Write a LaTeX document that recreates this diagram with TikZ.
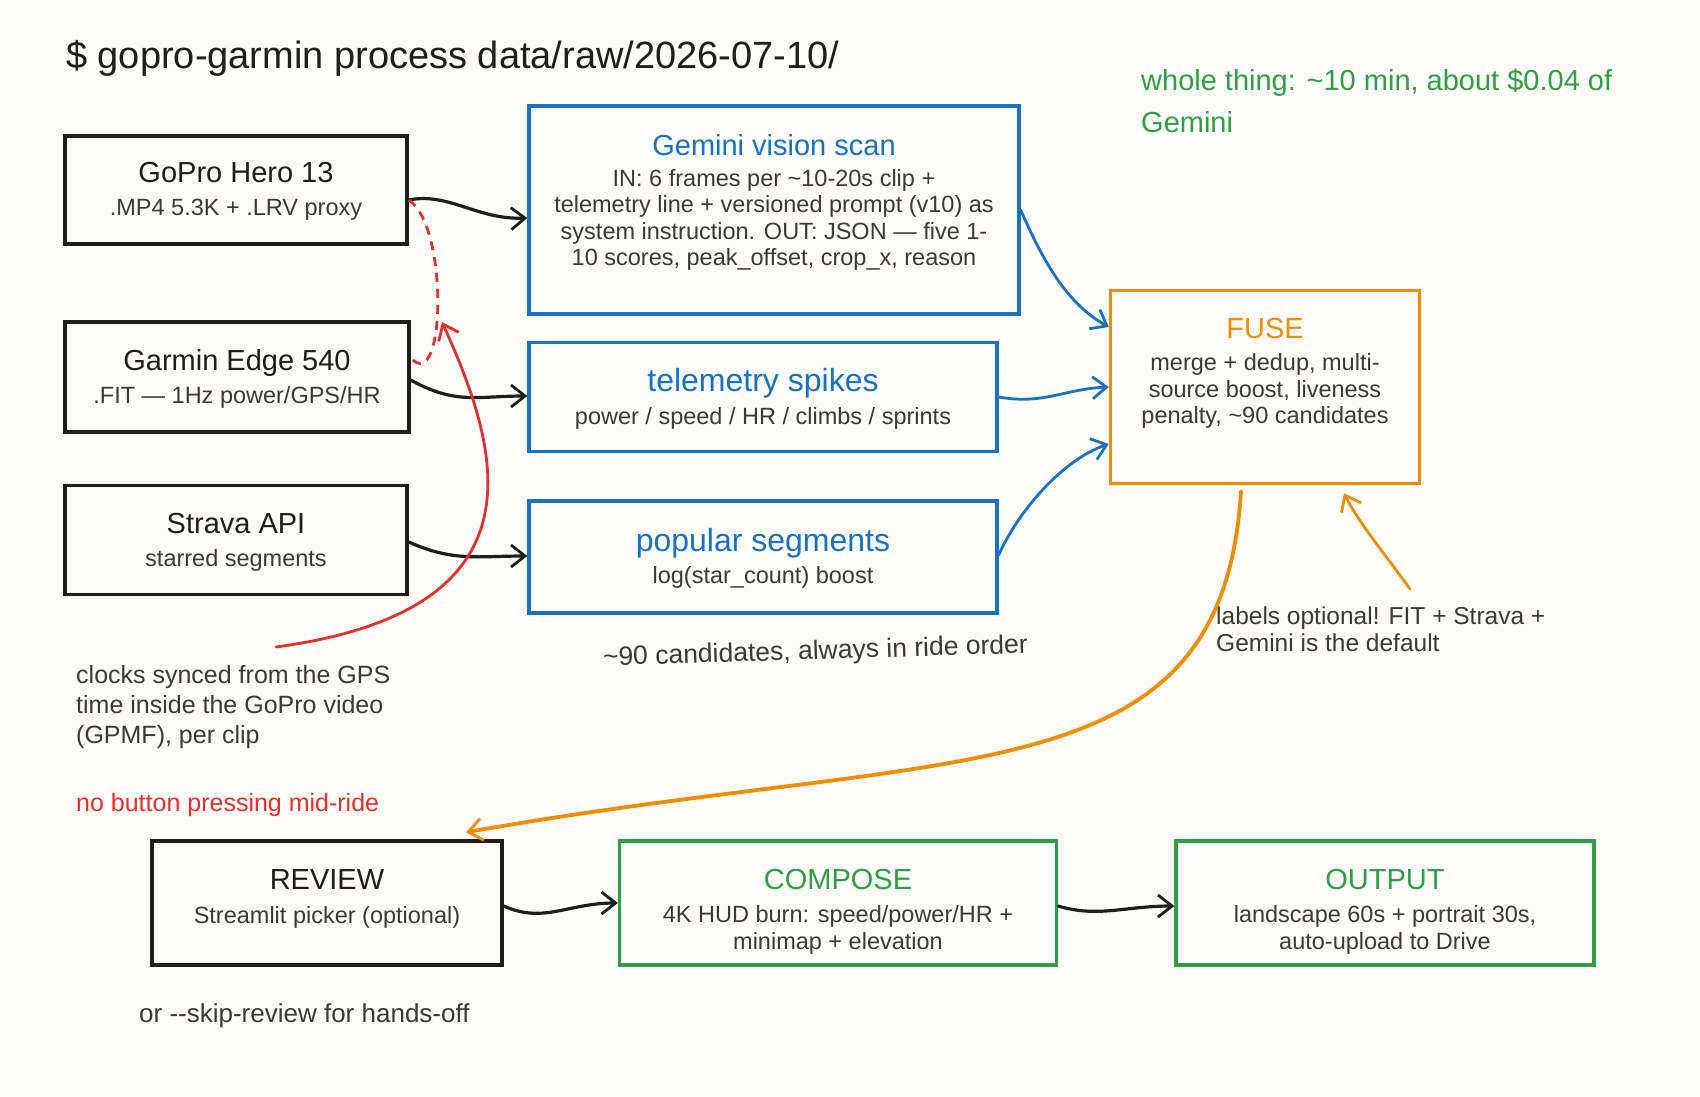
\documentclass[tikz,border=0pt]{standalone}
\usepackage{fontspec}
\setmainfont{Liberation Sans}
\usetikzlibrary{arrows.meta}
\definecolor{bg}{HTML}{FDFCF8}
\definecolor{ink}{HTML}{1E1E1E}
\definecolor{subink}{HTML}{3A3A3A}
\definecolor{xblue}{HTML}{1971C2}
\definecolor{xorange}{HTML}{F08C00}
\definecolor{xgreen}{HTML}{2F9E44}
\definecolor{xred}{HTML}{E03131}
\begin{document}
\begin{tikzpicture}[x=1pt,y=-1pt,
  box/.style={draw=#1, line width=3.4pt, rectangle, inner sep=0pt},
  ttl/.style={text=#1, font=\fontsize{29}{34}\selectfont, anchor=mid, inner sep=0pt},
  bigttl/.style={text=#1, font=\fontsize{32}{36}\selectfont, anchor=mid, inner sep=0pt},
  sub/.style={text=subink, font=\fontsize{23.5}{26.5}\selectfont, align=center, inner sep=0pt},
  note/.style={text=#1, font=\fontsize{24.5}{30}\selectfont, align=left, inner sep=0pt},
  tip/.style={-{Straight Barb[length=14pt,width=22pt,line width=2.8pt]}},
  arr/.style={draw=#1, line width=2.8pt, tip, line cap=round},
]
\fill[bg] (0,0) rectangle (1700,1096);
\useasboundingbox (0,0) rectangle (1700,1096);

% title
\node[text=ink, font=\fontsize{38}{42}\selectfont, anchor=mid west, inner sep=0pt] (title) at (66,66) {\$ gopro-garmin process data/raw/2026-07-10/};
\node[note=xgreen, font=\fontsize{29}{42}\selectfont, anchor=west] (cost) at (1141,101) {whole thing: \textasciitilde10 min, about \$0.04 of\\Gemini};

% input boxes
\node[box=ink, minimum width=342pt, minimum height=108pt] (gopro) at (236,190) {};
\node[ttl=ink] (gopro-t) at (236,180) {GoPro Hero 13};
\node[sub] (gopro-s) at (236,210) {.MP4 5.3K + .LRV proxy};

\node[box=ink, minimum width=344pt, minimum height=110pt] (garmin) at (237,377) {};
\node[ttl=ink] (garmin-t) at (237,368) {Garmin Edge 540};
\node[sub] (garmin-s) at (237,397) {.FIT — 1Hz power/GPS/HR};

\node[box=ink, minimum width=342pt, minimum height=109pt] (strava) at (236,540) {};
\node[ttl=ink] (strava-t) at (236,531) {Strava API};
\node[sub] (strava-s) at (236,560) {starred segments};

% middle boxes
\node[box=xblue, minimum width=490pt, minimum height=208pt] (gemini) at (774,210) {};
\node[ttl=xblue] (gemini-t) at (774,153) {Gemini vision scan};
\node[sub] (gemini-s) at (774,220) {IN: 6 frames per \textasciitilde10-20s clip +\\telemetry line + versioned prompt (v10) as\\system instruction. OUT: JSON — five 1-\\10 scores, peak\_offset, crop\_x, reason};

\node[box=xblue, minimum width=468pt, minimum height=109pt] (tele) at (763,397) {};
\node[bigttl=xblue] (tele-t) at (763,389) {telemetry spikes};
\node[sub] (tele-s) at (763,418) {power / speed / HR / climbs / sprints};

\node[box=xblue, minimum width=468pt, minimum height=112pt] (pop) at (763,557) {};
\node[bigttl=xblue] (pop-t) at (763,549) {popular segments};
\node[sub] (pop-s) at (763,577) {log(star\_count) boost};

% fuse
\node[box=xorange, minimum width=309pt, minimum height=193pt] (fuse) at (1265,387) {};
\node[ttl=xorange] (fuse-t) at (1265,336) {FUSE};
\node[sub] (fuse-s) at (1265,391) {merge + dedup, multi-\\source boost, liveness\\penalty, \textasciitilde90 candidates};

% bottom row
\node[box=ink, minimum width=350pt, minimum height=124pt] (review) at (327,903) {};
\node[ttl=ink] (review-t) at (327,887) {REVIEW};
\node[sub] (review-s) at (327,917) {Streamlit picker (optional)};

\node[box=xgreen, minimum width=437pt, minimum height=124pt] (compose) at (838,903) {};
\node[ttl=xgreen] (compose-t) at (838,887) {COMPOSE};
\node[sub] (compose-s) at (838,930) {4K HUD burn: speed/power/HR +\\minimap + elevation};

\node[box=xgreen, minimum width=418pt, minimum height=124pt] (output) at (1385,903) {};
\node[ttl=xgreen] (output-t) at (1385,887) {OUTPUT};
\node[sub] (output-s) at (1385,930) {landscape 60s + portrait 30s,\\auto-upload to Drive};

% annotations
\node[note=subink, font=\fontsize{25}{30}\selectfont, anchor=west] (clocks) at (76,707) {clocks synced from the GPS\\time inside the GoPro video\\(GPMF), per clip};
\node[note=xred, font=\fontsize{25}{30}\selectfont, anchor=mid west] (nobutton) at (76,809) {no button pressing mid-ride};
\node[note=subink, font=\fontsize{26.5}{30}\selectfont, anchor=mid west, rotate=1.7] (cands) at (603,663) {\textasciitilde90 candidates, always in ride order};
\node[note=subink, font=\fontsize{24.5}{27}\selectfont, anchor=west] (labels) at (1216,629) {labels optional! FIT + Strava +\\Gemini is the default};
\node[note=subink, font=\fontsize{26}{30}\selectfont, anchor=mid west] (skip) at (139,1020) {or {-}{-}skip-review for hands-off};

% black input arrows
\draw[arr=ink, line width=3.2pt] ([yshift=-10pt]gopro.east) .. controls +(40,-8) and +(-50,2) .. ([yshift=-8pt]gemini.west);
\draw[arr=ink, line width=3.2pt] ([yshift=-3pt]garmin.east) .. controls +(45,25) and +(-50,0) .. ([yshift=1pt]tele.west);
\draw[arr=ink, line width=3.2pt] ([yshift=-2pt]strava.east) .. controls +(45,20) and +(-50,0) .. ([yshift=1pt]pop.west);

% blue arrows to fuse
\draw[arr=xblue] (gemini.east) .. controls +(20,45) and +(-45,-25) .. ([yshift=60pt]fuse.west);
\draw[arr=xblue] (tele.east) .. controls +(45,8) and +(-45,2) .. (fuse.west);
\draw[arr=xblue] ([yshift=2pt]pop.east) .. controls +(20,-45) and +(-45,15) .. ([yshift=-57pt]fuse.west);

% fuse -> review
\draw[arr=xorange, line width=3.8pt] ([xshift=-24pt,yshift=-6pt]fuse.south) .. controls (1222,800) and (960,745) .. ([xshift=139pt,yshift=7pt]review.north);

% labels annotation arrow
\coordinate (labels-a) at (1410,589);
\draw[arr=xorange] (labels-a) .. controls +(-25,-35) and +(15,30) .. ([xshift=79pt,yshift=-8pt]fuse.south);

% bottom arrows
\draw[arr=ink, line width=3.2pt] ([yshift=-3pt]review.east) .. controls +(40,18) and +(-50,0) .. (compose.west);
\draw[arr=ink, line width=3.2pt] ([yshift=-3pt]compose.east) .. controls +(40,12) and +(-50,0) .. ([yshift=-3pt]output.west);

% red clock sync
\coordinate (clock-a) at (276,647);
\draw[arr=xred] (clock-a) .. controls (550,610) and (500,450) .. (442,322);
\draw[draw=xred, line width=2.8pt, dashed, dash pattern=on 9pt off 7pt] ([yshift=-10pt]gopro.east) .. controls +(40,25) and +(35,38) .. ([yshift=19pt]garmin.east);
\end{tikzpicture}
\end{document}
